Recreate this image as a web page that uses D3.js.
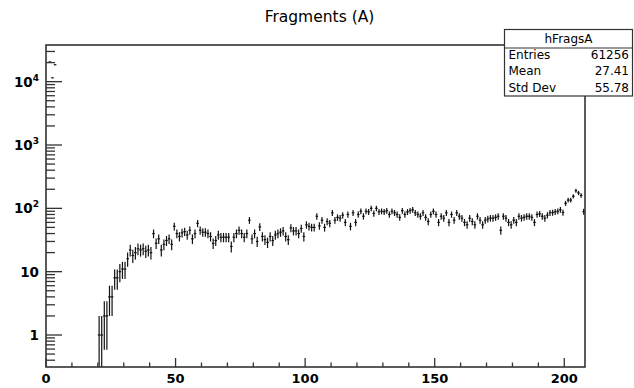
<!DOCTYPE html>
<html>
<head>
<meta charset="utf-8">
<script src="https://cdn.jsdelivr.net/npm/d3@7"></script>
<style>
  body { margin: 0; background: #fff; }
  text { font-family: "DejaVu Sans", sans-serif; fill: #000; }
</style>
</head>
<body>
<div id="chart"></div>
<script>
// hFragsA, 208 bins of width 1 from 0 to 208, drawn on a log y axis
var binCounts = [
  0, 20500, 11500, 18500, 0, 0, 0, 0, 0, 0,
  0, 0, 0, 0, 0, 0, 0, 0, 0, 0,
  1, 1, 2, 2, 4, 4, 8, 8, 10, 11,
  11, 16, 22, 18, 20, 23, 22, 23, 21, 22,
  20, 40, 28, 33, 22, 27, 31, 33, 27, 52,
  40, 36, 41, 43, 38, 45, 33, 40, 58, 45,
  42, 42, 40, 36, 28, 31, 38, 35, 35, 35,
  35, 25, 35, 40, 45, 40, 35, 40, 65, 33,
  40, 30, 51, 36, 32, 29, 36, 31, 38, 40,
  42, 44, 36, 32, 49, 44, 44, 40, 48, 36,
  55, 52, 50, 50, 75, 53, 65, 50, 62, 58,
  85, 65, 72, 70, 78, 60, 80, 52, 85, 60,
  80, 90, 75, 90, 88, 100, 83, 100, 88, 90,
  88, 92, 80, 90, 85, 80, 72, 92, 80, 88,
  92, 95, 85, 80, 75, 85, 72, 62, 80, 90,
  80, 60, 75, 70, 85, 60, 80, 65, 85, 75,
  70, 60, 55, 70, 62, 55, 75, 65, 55, 65,
  68, 70, 70, 72, 75, 45, 75, 70, 60, 55,
  65, 60, 75, 70, 72, 75, 75, 72, 60, 80,
  82, 75, 70, 78, 85, 86, 88, 90, 95, 86,
  120, 135, 135, 155, 190, 175, 160, 89
];
var xMajorTicks = [0, 50, 100, 150, 200];
var xMinorTicks = [10, 20, 30, 40, 60, 70, 80, 90, 110, 120, 130, 140, 160, 170, 180, 190];
var yDecades = [1, 10, 100, 1000, 10000];
var yTickLabels = [["1", ""], ["10", ""], ["10", "2"], ["10", "3"], ["10", "4"]];
var statNames = ["Entries", "Mean", "Std Dev"];
var statValues = ["61256", "27.41", "55.78"];

var width = 634, height = 388;
var frame = { left: 46, right: 585, top: 45, bottom: 367 };
var AXIS_COLOR = '#333';

var svg = d3.select("#chart").append("svg")
  .attr("width", width)
  .attr("height", height);

var x = d3.scaleLinear().domain([0, binCounts.length]).range([frame.left, frame.right]);
var y = d3.scaleLog().domain([0.3125, 37940]).range([frame.bottom, frame.top]);

svg.append("clipPath").attr("id", "plotClip")
  .append("rect")
  .attr("x", frame.left).attr("y", frame.top)
  .attr("width", frame.right - frame.left).attr("height", frame.bottom - frame.top);

// points with sqrt(N) error bars
var bins = binCounts.map(function(v, i) { return { lo: i, hi: i + 1, v: v }; })
  .filter(function(d) { return d.v > 0; });

var marks = svg.append("g").attr("clip-path", "url(#plotClip)")
  .attr("stroke", "#111").attr("stroke-width", 1.2);

marks.selectAll("line.hbar")
  .data(bins)
  .enter()
  .append("line")
  .attr("class", "hbar")
  .attr("x1", function(d) { return x(d.lo); })
  .attr("x2", function(d) { return x(d.hi); })
  .attr("y1", function(d) { return y(d.v); })
  .attr("y2", function(d) { return y(d.v); });

marks.selectAll("line.vbar")
  .data(bins)
  .enter()
  .append("line")
  .attr("class", "vbar")
  .attr("x1", function(d) { return x((d.lo + d.hi) / 2); })
  .attr("x2", function(d) { return x((d.lo + d.hi) / 2); })
  .attr("y1", function(d) { return y(d.v + Math.sqrt(d.v)); })
  .attr("y2", function(d) {
    var low = d.v - Math.sqrt(d.v);
    return low > y.domain()[0] ? y(low) : frame.bottom + 2;
  });

// frame
svg.append("rect")
  .attr("x", frame.left).attr("y", frame.top)
  .attr("width", frame.right - frame.left).attr("height", frame.bottom - frame.top)
  .attr("fill", "none").attr("stroke", AXIS_COLOR).attr("stroke-width", 1.6);

// x axis ticks, drawn inward
var axes = svg.append("g").attr("stroke", AXIS_COLOR).attr("stroke-width", 1.3);
axes.selectAll("line.xmaj")
  .data(xMajorTicks)
  .enter()
  .append("line")
  .attr("x1", function(d) { return x(d); }).attr("x2", function(d) { return x(d); })
  .attr("y1", frame.bottom).attr("y2", frame.bottom - 9);
axes.selectAll("line.xmin")
  .data(xMinorTicks)
  .enter()
  .append("line")
  .attr("x1", function(d) { return x(d); }).attr("x2", function(d) { return x(d); })
  .attr("y1", frame.bottom).attr("y2", frame.bottom - 4.5);

svg.append("g").selectAll("text")
  .data(xMajorTicks)
  .enter()
  .append("text")
  .attr("x", function(d) { return x(d); })
  .attr("y", 382.5)
  .attr("text-anchor", "middle")
  .attr("font-size", "13px")
  .attr("font-weight", "bold")
  .text(function(d) { return d; });

// y axis: decades plus 2..9 minor ticks
var yMinor = [];
[0.1, 1, 10, 100, 1000, 10000].forEach(function(dec) {
  for (var k = 2; k <= 9; k++) {
    var t = k * dec;
    if (t >= y.domain()[0] && t <= y.domain()[1]) yMinor.push(t);
  }
});
axes.selectAll("line.ymaj")
  .data(yDecades)
  .enter()
  .append("line")
  .attr("x1", frame.left).attr("x2", frame.left + 16)
  .attr("y1", function(d) { return y(d); }).attr("y2", function(d) { return y(d); });
axes.selectAll("line.ymin")
  .data(yMinor)
  .enter()
  .append("line")
  .attr("x1", frame.left).attr("x2", frame.left + 9)
  .attr("y1", function(d) { return y(d); }).attr("y2", function(d) { return y(d); });

var yLabels = svg.append("g").selectAll("text")
  .data(yDecades)
  .enter()
  .append("text")
  .attr("x", 39)
  .attr("y", function(d) { return y(d) + 5; })
  .attr("text-anchor", "end")
  .attr("font-size", "13.5px")
  .attr("font-weight", "bold");
yLabels.append("tspan")
  .text(function(d, i) { return yTickLabels[i][0]; });
yLabels.append("tspan")
  .attr("dy", -6)
  .attr("font-size", "9px")
  .text(function(d, i) { return yTickLabels[i][1]; });

// title
svg.append("text")
  .attr("x", 319.5).attr("y", 21.5)
  .attr("text-anchor", "middle")
  .attr("font-size", "15.5px")
  .text("Fragments (A)");

// stats box
var stats = svg.append("g");
stats.append("rect")
  .attr("x", 504.5).attr("y", 29.5).attr("width", 128).attr("height", 66.5)
  .attr("fill", "#fff").attr("stroke", AXIS_COLOR).attr("stroke-width", 1.2);
stats.append("line")
  .attr("x1", 504.5).attr("x2", 632.5).attr("y1", 48).attr("y2", 48)
  .attr("stroke", AXIS_COLOR).attr("stroke-width", 1.2);
stats.append("text")
  .attr("x", 568.5).attr("y", 42.5)
  .attr("text-anchor", "middle")
  .attr("font-size", "12px")
  .text("hFragsA");
stats.selectAll("text.name")
  .data(statNames)
  .enter()
  .append("text")
  .attr("class", "name")
  .attr("x", 508.5)
  .attr("y", function(d, i) { return 59 + i * 16.4; })
  .attr("font-size", "12px")
  .text(function(d) { return d; });
stats.selectAll("text.val")
  .data(statValues)
  .enter()
  .append("text")
  .attr("class", "val")
  .attr("x", 629)
  .attr("y", function(d, i) { return 59 + i * 16.4; })
  .attr("text-anchor", "end")
  .attr("font-size", "12px")
  .text(function(d) { return d; });
</script>
</body>
</html>
